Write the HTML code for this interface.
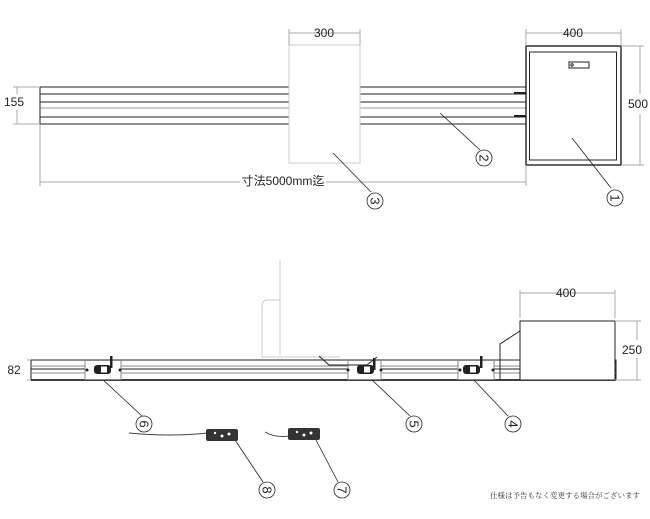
<!DOCTYPE html>
<html><head><meta charset="utf-8"><style>
html,body{margin:0;padding:0;background:#fff;}
svg{display:block;font-family:"Liberation Sans","Noto Sans CJK JP",sans-serif;}
</style></head><body>
<svg width="650" height="519" viewBox="0 0 650 519" xmlns="http://www.w3.org/2000/svg">
<g fill="none" stroke="#222" stroke-width="1">
  <line x1="40" y1="87" x2="526" y2="87"/>
  <line x1="40" y1="94" x2="526" y2="94"/>
  <line x1="40" y1="102" x2="526" y2="102"/>
  <line x1="40" y1="108" x2="526" y2="108" stroke="#999"/>
  <line x1="40" y1="117" x2="526" y2="117"/>
  <line x1="40" y1="124" x2="526" y2="124"/>
  <line x1="40" y1="87" x2="40" y2="124"/>
  <line x1="514" y1="93" x2="526" y2="93" stroke-width="2"/>
  <line x1="514" y1="116" x2="526" y2="116" stroke-width="2"/>
  <rect x="289" y="45" width="71" height="118" fill="#fff" stroke="#ccc"/>
  <rect x="526" y="46" width="95" height="119" fill="#fff" stroke-width="1.4"/>
  <rect x="529.5" y="52" width="87" height="108"/>
  <rect x="569" y="62" width="20" height="6"/>
  <circle cx="572" cy="65" r="1.2"/>
</g>
<g stroke="#aaa" stroke-width="1" fill="none">
  <line x1="289" y1="33" x2="360" y2="33"/><line x1="289" y1="29" x2="289" y2="45"/><line x1="360" y1="29" x2="360" y2="45"/>
  <line x1="526" y1="33" x2="621" y2="33"/><line x1="526" y1="29" x2="526" y2="46"/><line x1="621" y1="29" x2="621" y2="46"/>
  <line x1="640" y1="46" x2="640" y2="94"/><line x1="640" y1="114" x2="640" y2="165"/><line x1="621" y1="46" x2="644" y2="46"/><line x1="621" y1="165" x2="644" y2="165"/>
  <line x1="17" y1="87" x2="17" y2="94"/><line x1="17" y1="110" x2="17" y2="124"/><line x1="13" y1="87" x2="40" y2="87"/><line x1="13" y1="124" x2="40" y2="124"/>
  <line x1="40" y1="182" x2="240" y2="182"/><line x1="326" y1="182" x2="526" y2="182"/><line x1="40" y1="124" x2="40" y2="186"/><line x1="526" y1="165" x2="526" y2="186"/>
</g>
<g font-size="12" fill="#222" text-anchor="middle">
  <text x="324" y="37">300</text>
  <text x="573" y="37">400</text>
  <text x="638" y="108">500</text>
  <text x="14" y="106">155</text>
  <text x="283" y="185">寸法5000mm迄</text>
</g>
<g stroke="#222" stroke-width="0.8" fill="none">
  <line x1="333" y1="153" x2="371" y2="192"/>
  <line x1="440" y1="113" x2="480" y2="150"/>
  <line x1="572" y1="138" x2="611" y2="188"/>
  <circle cx="375" cy="201" r="8"/>
  <circle cx="484" cy="158" r="8"/>
  <circle cx="615" cy="198" r="8"/>
  <line x1="100" y1="377" x2="142" y2="416"/>
  <line x1="370" y1="378" x2="410" y2="416"/>
  <line x1="472" y1="378" x2="508" y2="416"/>
  <line x1="235" y1="440" x2="263" y2="482"/>
  <line x1="316" y1="440" x2="338" y2="482"/>
  <circle cx="144" cy="424" r="8"/>
  <circle cx="414" cy="424" r="8"/>
  <circle cx="513" cy="424" r="8"/>
  <circle cx="267" cy="490" r="8"/>
  <circle cx="342" cy="490" r="8"/>
</g>
<g font-size="13" fill="#222" text-anchor="middle">
  <text transform="translate(375,201) rotate(90)" y="4.5">3</text>
  <text transform="translate(484,158) rotate(90)" y="4.5">2</text>
  <text transform="translate(615,198) rotate(90)" y="4.5">1</text>
  <text transform="translate(144,424) rotate(90)" y="4.5">6</text>
  <text transform="translate(414,424) rotate(90)" y="4.5">5</text>
  <text transform="translate(513,424) rotate(90)" y="4.5">4</text>
  <text transform="translate(267,490) rotate(90)" y="4.5">8</text>
  <text transform="translate(342,490) rotate(90)" y="4.5">7</text>
</g>
<g fill="none" stroke="#ccc">
  <path d="M280 260 V355 M262 357 V306 Q262 300 268 300 H280 M262 357 H340"/>
</g>
<g fill="none" stroke="#222" stroke-width="1">
  <rect x="31" y="360" width="585" height="20"/>
  <line x1="31" y1="366" x2="616" y2="366" stroke="#888"/>
  <line x1="31" y1="369" x2="616" y2="369"/>
  <line x1="31" y1="373" x2="616" y2="373" stroke="#888"/>
  <line x1="31" y1="380" x2="616" y2="380" stroke-width="1.8"/>
  <rect x="85" y="360.5" width="36" height="19" fill="#fff" stroke="#888"/>
  <rect x="348" y="360.5" width="33" height="19" fill="#fff" stroke="#888"/>
  <rect x="458" y="360.5" width="36" height="19" fill="#fff" stroke="#888"/>
  <rect x="520" y="321" width="95" height="59" fill="#fff"/>
  <path d="M500 380 V344 L520 331"/>
  <path d="M319 356 L329 365 H367 L377 357"/>
</g>
<g fill="#222">
  <rect x="94" y="365" width="17" height="9" rx="3"/><rect x="101" y="366.5" width="6" height="6" fill="#fff"/><rect x="110" y="356" width="2.5" height="12"/>
  <rect x="357" y="365" width="17" height="9" rx="3"/><rect x="364" y="366.5" width="6" height="6" fill="#fff"/><rect x="373" y="358" width="2.5" height="12"/>
  <rect x="463" y="365" width="17" height="9" rx="3"/><rect x="470" y="366.5" width="6" height="6" fill="#fff"/><rect x="480" y="356" width="2.5" height="12"/>
  <circle cx="87" cy="370" r="1.5"/><circle cx="120" cy="370" r="1.5"/>
  <circle cx="348" cy="370" r="1.5"/><circle cx="381" cy="370" r="1.5"/>
  <circle cx="460" cy="370" r="1.5"/><circle cx="493" cy="370" r="1.5"/>
</g>
<g fill="none" stroke="#444">
  <path d="M129 433 Q170 437 208 433"/>
  <path d="M265 432 Q275 438 290 436"/>
</g>
<g fill="#333">
  <rect x="206" y="429" width="32" height="12" rx="2"/>
  <rect x="288" y="428" width="32" height="12" rx="2"/>
</g>
<g fill="#fff">
  <circle cx="215" cy="433" r="1.2"/><circle cx="222" cy="436" r="1.5"/><circle cx="229" cy="434" r="1.5"/>
  <circle cx="297" cy="432" r="1.2"/><circle cx="304" cy="435" r="1.5"/><circle cx="311" cy="433" r="1.5"/>
</g>
<g stroke="#aaa" stroke-width="1" fill="none">
  <line x1="520" y1="293" x2="615" y2="293"/><line x1="520" y1="290" x2="520" y2="318"/><line x1="615" y1="290" x2="615" y2="318"/>
  <line x1="637" y1="321" x2="637" y2="340"/><line x1="637" y1="358" x2="637" y2="380"/><line x1="615" y1="321" x2="641" y2="321"/><line x1="615" y1="380" x2="641" y2="380"/>
  <line x1="27" y1="360" x2="31" y2="360"/><line x1="27" y1="380" x2="31" y2="380"/>
</g>
<g font-size="12" fill="#222" text-anchor="middle">
  <text x="566" y="297">400</text>
  <text x="632" y="354">250</text>
  <text x="14" y="374">82</text>
</g>
<text x="640" y="498" font-size="7.5" fill="#333" text-anchor="end" font-family="'Noto Serif CJK SC','Noto Sans CJK JP',serif">仕様は予告もなく変更する場合がございます</text>
</svg>
</body></html>
